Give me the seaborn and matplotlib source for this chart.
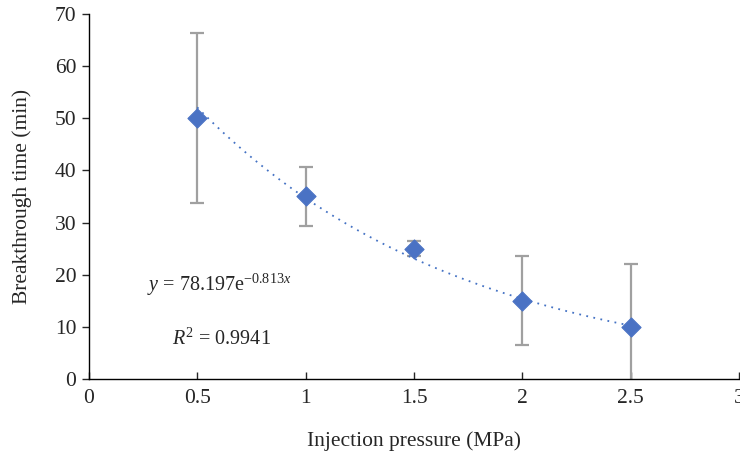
import matplotlib
matplotlib.use("Agg")
import matplotlib.pyplot as plt
import numpy as np
import pandas as pd
import seaborn as sns

pressure = [0.5, 1.0, 1.5, 2.0, 2.5]
breakthrough = [50, 35, 25, 15, 10]
error = [16.3, 5.6, 1.4, 8.5, 12.0]
x_ticks = [0, 0.5, 1, 1.5, 2, 2.5, 3]
x_tick_labels = ["0", "0.5", "1", "1.5", "2", "2.5", "3"]
y_ticks = [0, 10, 20, 30, 40, 50, 60, 70]
equation_text = r"$y$ = 78.197e$^{-0.813x}$"
r2_text = r"$R^2$ = 0.9941"

sns.set_style("white")
plt.rcParams["font.family"] = ["Liberation Serif", "DejaVu Serif"]
plt.rcParams["mathtext.fontset"] = "custom"
plt.rcParams["mathtext.rm"] = "Liberation Serif"
plt.rcParams["mathtext.it"] = "Liberation Serif:italic"

df = pd.DataFrame({"pressure": pressure, "time": breakthrough, "err": error})

# exponential trendline fitted on the data
slope, intercept = np.polyfit(df["pressure"], np.log(df["time"]), 1)
a = np.exp(intercept)
xs = np.linspace(df["pressure"].min(), df["pressure"].max(), 200)
trend = pd.DataFrame({"pressure": xs, "time": a * np.exp(slope * xs)})

fig, ax = plt.subplots(figsize=(7.4, 4.59), dpi=100)
fig.subplots_adjust(left=0.12, right=0.999, bottom=0.174, top=0.97)

ax.errorbar(df["pressure"], df["time"], yerr=df["err"], fmt="none",
            ecolor="#a0a0a0", elinewidth=1.6, capsize=5, capthick=1.6, zorder=2)
sns.lineplot(data=trend, x="pressure", y="time", ax=ax, color="#4472c4",
             linestyle=(0, (1, 3)), linewidth=1.3, zorder=3)
sns.scatterplot(data=df, x="pressure", y="time", ax=ax, marker="D", s=95,
                color="#4a72c4", edgecolor="#4a72c4", zorder=4)

ax.set_xlim(0, 3)
ax.set_ylim(0, 70)
ax.set_xticks(x_ticks)
ax.set_xticklabels(x_tick_labels)
ax.set_yticks(y_ticks)
ax.tick_params(axis="x", direction="in", length=5, width=1, labelsize=15.5,
               pad=7, bottom=True)
ax.tick_params(axis="y", direction="out", length=5, width=1, labelsize=15.5,
               pad=4, left=True)

for side in ["top", "right"]:
    ax.spines[side].set_visible(False)
for side in ["left", "bottom"]:
    ax.spines[side].set_color("black")
    ax.spines[side].set_linewidth(1)

ax.set_xlabel("Injection pressure (MPa)", fontsize=15.5, labelpad=17)
ax.set_ylabel("Breakthrough time (min)", fontsize=15.5, labelpad=16)

ax.text(0.27, 17, equation_text, fontsize=14.5, va="baseline", ha="left")
ax.text(0.383, 6.5, r2_text, fontsize=14.5, va="baseline", ha="left")

fig.savefig("out.png", dpi=100)
